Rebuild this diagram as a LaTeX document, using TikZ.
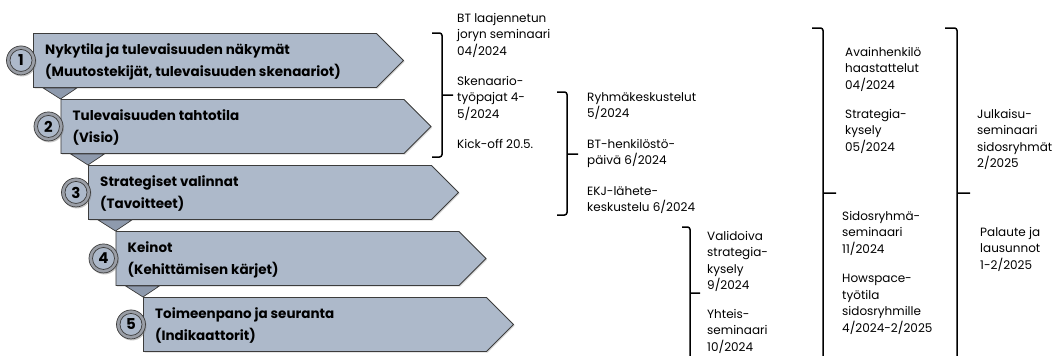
\documentclass[tikz,border=0pt]{standalone}
\usepackage{fontspec}
\setmainfont{Poppins}
\usepackage{tikz}
\usetikzlibrary{shapes.symbols,shadows}
\definecolor{stepfill}{HTML}{ADB9CA}
\definecolor{stepline}{HTML}{3C3C3C}
\definecolor{notchfill}{HTML}{8E9AAD}
\definecolor{ringgray}{HTML}{9A9EA6}

\begin{document}
\begin{tikzpicture}[x=1pt, y=-1pt,
    stepbox/.style={signal, signal to=east, signal pointer angle=90,
      minimum width=370pt, minimum height=54pt, inner sep=0pt, anchor=north west,
      draw=stepline, line width=0.9pt, fill=stepfill,
      drop shadow={shadow xshift=1.2pt, shadow yshift=-1.2pt, opacity=0.3}},
    steptext/.style={anchor=west, align=left, inner sep=0pt,
      font=\bfseries\fontsize{13.5}{22}\selectfont},
    numring/.style={circle, minimum size=29pt, inner sep=0pt, draw=stepline,
      line width=0.7pt, fill=ringgray,
      drop shadow={shadow xshift=1pt, shadow yshift=-1.5pt, opacity=0.45}},
    numdisc/.style={circle, minimum size=22pt, inner sep=0pt, draw=stepline,
      line width=0.7pt, fill=stepfill, font=\bfseries\fontsize{15}{15}\selectfont},
    notch/.style={draw=stepline, line width=0.7pt, fill=notchfill},
    event/.style={anchor=north west, align=left, inner sep=0pt,
      font=\fontsize{12}{16.5}\selectfont},
    bracket/.style={line width=1.5pt, rounded corners=2.5pt}]
  \useasboundingbox (0,0) rectangle (1053,356);

  \node[stepbox] (nyky) at (33,33) {};
  \node[stepbox] (visio) at (60.5,99) {};
  \node[stepbox] (valinnat) at (88,165) {};
  \node[stepbox] (keinot) at (115.5,231) {};
  \node[stepbox] (seuranta) at (143,297) {};

  \draw[notch] ([xshift=10pt]nyky.south west) -- ([xshift=44pt]nyky.south west) -- (visio.north west) -- cycle;
  \draw[notch] ([xshift=10pt]visio.south west) -- ([xshift=44pt]visio.south west) -- (valinnat.north west) -- cycle;
  \draw[notch] ([xshift=10pt]valinnat.south west) -- ([xshift=44pt]valinnat.south west) -- (keinot.north west) -- cycle;
  \draw[notch] ([xshift=10pt]keinot.south west) -- ([xshift=44pt]keinot.south west) -- (seuranta.north west) -- cycle;

  \node[steptext] (nykyt) at ([xshift=12pt, yshift=-1pt]nyky.west)
    {Nykytila ja tulevaisuuden näkymät\\(Muutostekijät, tulevaisuuden skenaariot)};
  \node[steptext] (visiot) at ([xshift=12pt, yshift=-1pt]visio.west)
    {Tulevaisuuden tahtotila\\(Visio)};
  \node[steptext] (valinnatt) at ([xshift=12pt, yshift=-1pt]valinnat.west)
    {Strategiset valinnat\\(Tavoitteet)};
  \node[steptext] (keinott) at ([xshift=12pt, yshift=-1pt]keinot.west)
    {Keinot\\(Kehittämisen kärjet)};
  \node[steptext] (seurantat) at ([xshift=12pt, yshift=-1pt]seuranta.west)
    {Toimeenpano ja seuranta\\(Indikaattorit)};

  \node[numring] (ring1) at ([xshift=-12pt]nyky.west) {};
  \node[numdisc] (num1) at (ring1) {1};
  \node[numring] (ring2) at ([xshift=-12pt]visio.west) {};
  \node[numdisc] (num2) at (ring2) {2};
  \node[numring] (ring3) at ([xshift=-12pt]valinnat.west) {};
  \node[numdisc] (num3) at (ring3) {3};
  \node[numring] (ring4) at ([xshift=-12pt]keinot.west) {};
  \node[numdisc] (num4) at (ring4) {4};
  \node[numring] (ring5) at ([xshift=-12pt]seuranta.west) {};
  \node[numdisc] (num5) at (ring5) {5};

  \draw[bracket] (432,33) -- (442,33) -- (442,157) -- (432,157) (442,95) -- (453,95);
  \draw[bracket] (557,92) -- (567,92) -- (567,215) -- (557,215) (567,154) -- (578,154);
  \draw[bracket] (682,227) -- (690,227) -- (690,360) (690,293) -- (700,293);
  \draw[bracket] (812,28) -- (823,28) -- (823,360) (823,193) -- (836,193);
  \draw[bracket] (945,28) -- (957,28) -- (957,360) (957,193) -- (970,193);

  \node[event] (seminaari) at (457,13) {BT laajennetun\\joryn seminaari\\04/2024};
  \node[event] (tyopajat) at (457,76) {Skenaario-\\työpajat 4-\\5/2024};
  \node[event] (kickoff) at (457,139) {Kick-off 20.5.};
  \node[event] (ryhma) at (587,92) {Ryhmäkeskustelut\\5/2024};
  \node[event] (henkilosto) at (587,139) {BT-henkilöstö-\\päivä 6/2024};
  \node[event] (ekj) at (587,186) {EKJ-lähete-\\keskustelu 6/2024};
  \node[event] (validoiva) at (707,231) {Validoiva\\strategia-\\kysely\\9/2024};
  \node[event] (yhteis) at (707,309) {Yhteis-\\seminaari\\10/2024};
  \node[event] (avain) at (845,47) {Avainhenkilö\\haastattelut\\04/2024};
  \node[event] (kysely) at (845,109) {Strategia-\\kysely\\05/2024};
  \node[event] (sidos) at (842,211) {Sidosryhmä-\\seminaari\\11/2024};
  \node[event] (howspace) at (842,274) {Howspace-\\työtila\\sidosryhmille\\4/2024-2/2025};
  \node[event] (julkaisu) at (977,109) {Julkaisu-\\seminaari\\sidosryhmät\\2/2025};
  \node[event] (palaute) at (980,227) {Palaute ja\\lausunnot\\1-2/2025};
\end{tikzpicture}
\end{document}
